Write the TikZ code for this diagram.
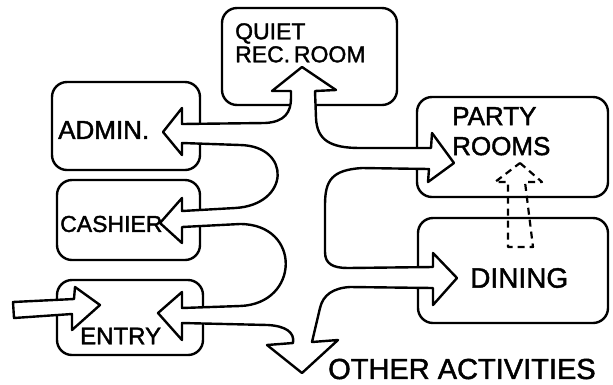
\documentclass[tikz,border=0pt]{standalone}
\usepackage{fontspec}
\setmainfont[AutoFakeBold=1.6]{Liberation Sans}

\begin{document}
\begin{tikzpicture}[
  x=1pt, y=-1pt,
  room/.style={draw, line width=2.4pt, rounded corners=15pt, inner sep=0pt},
  lettering/.style={font=\fontsize{#1}{#1}\selectfont\bfseries, inner sep=0pt, anchor=west, align=left},
  bigarrow/.style={draw, fill=white, line width=2.4pt, line join=round},
  hintarrow/.style={draw, line width=2.2pt, dash pattern=on 7pt off 5pt, line join=round}
]
  \useasboundingbox (0,0) rectangle (613,384);

  \node[room, minimum width=175pt, minimum height=97pt] (quiet) at (309.5,56.5) {};
  \node[room, minimum width=148pt, minimum height=88pt] (admin) at (126,126) {};
  \node[room, minimum width=143pt, minimum height=80pt] (cashier) at (128.5,220) {};
  \node[room, minimum width=146pt, minimum height=75pt] (entry) at (130,317.5) {};
  \node[room, minimum width=191pt, minimum height=100pt] (party) at (512.5,147) {};
  \node[room, minimum width=190pt, minimum height=105pt] (dining) at (513,270.5) {};

  % one wide hollow arrow branching out from the hall
  \draw[bigarrow] (302,67) -- (336,90) -- (315,91) -- (316,118)
    .. controls (317,140) and (330,148) .. (360,148) -- (431,148)
    -- (432,133) -- (454,163) -- (428,182) -- (429,169) -- (362,168)
    .. controls (332,170) and (325,180) .. (325,205) -- (325,252)
    .. controls (325,264) and (333,268) .. (348,268) -- (433,267)
    -- (433,253) -- (457,278) -- (433,305) -- (433,288) -- (350,287)
    .. controls (333,288) and (323,295) .. (320,308) -- (312,342)
    -- (338,340) -- (302,373) -- (267,345) -- (293,343)
    .. controls (295,332) and (285,326) .. (268,325) -- (182,323)
    -- (182,340) -- (158,313) -- (182,292) -- (182,308) -- (240,306)
    .. controls (300,304) and (302,224) .. (240,224) -- (182,227)
    -- (182,243) -- (160,223) -- (182,198) -- (182,211) -- (235,208)
    .. controls (290,205) and (292,146) .. (240,145) -- (182,143)
    -- (182,155) -- (163,132) -- (182,108) -- (182,124) -- (265,123)
    .. controls (285,122) and (291,112) .. (291,98) -- (291,91) -- (272,91) -- cycle;

  \draw[bigarrow] (13,302) -- (74,299) -- (75,287) -- (100,305) -- (72,330) -- (72,314) -- (14,318) -- cycle;

  \draw[hintarrow] (520,163) -- (542,182) -- (525,182) -- (533,247) -- (508,247) -- (508,182) -- (495,182) -- cycle;

  \node[lettering=23, anchor=north west] (quiettext) at (235,23) {QUIET\\REC.\,ROOM};
  \node[lettering=26] (admintext) at (58,130) {ADMIN.};
  \node[lettering=23] (cashiertext) at (60,224) {CASHIER};
  \node[lettering=24] (entrytext) at (80,336) {ENTRY};
  \node[lettering=26, anchor=north west] (partytext) at (452,107) {PARTY\\[4pt]ROOMS};
  \node[lettering=28] (diningtext) at (470,278) {DINING};
  \node[lettering=29] (othertext) at (328,369) {OTHER ACTIVITIES};
\end{tikzpicture}
\end{document}
